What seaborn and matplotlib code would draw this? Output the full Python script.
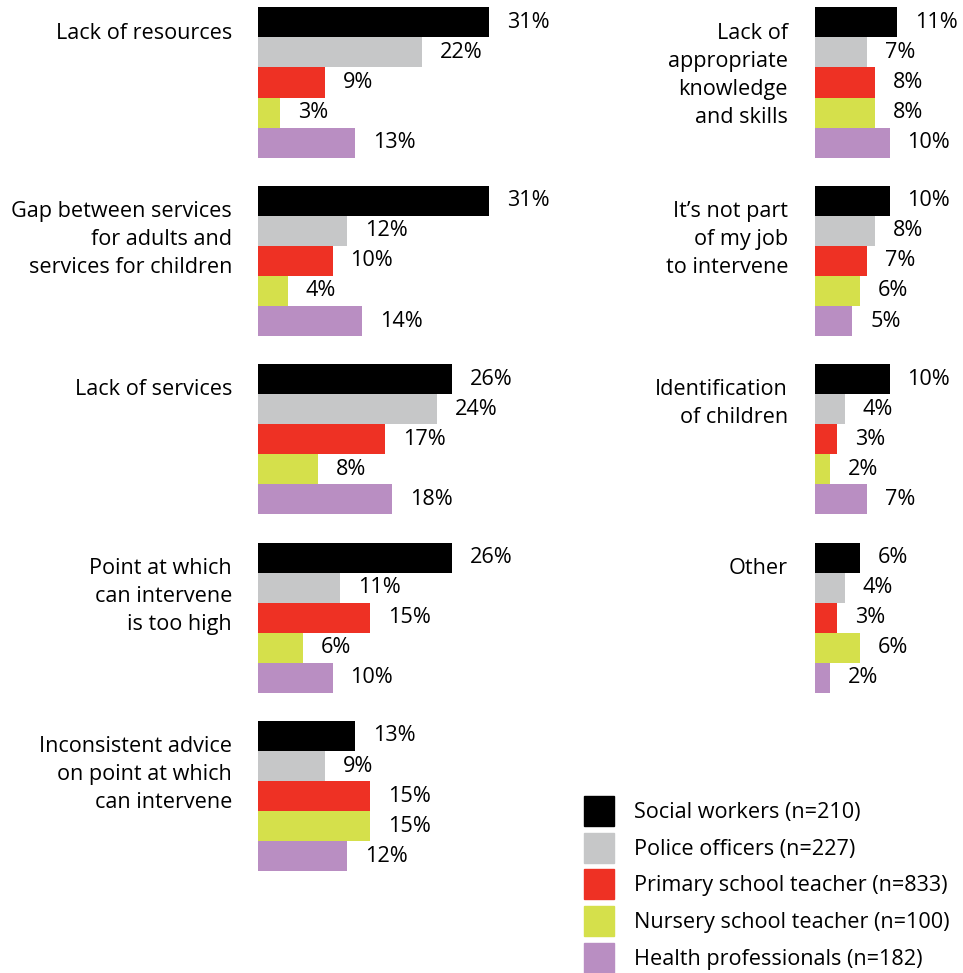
import matplotlib
matplotlib.use('Agg')
import matplotlib.pyplot as plt
import matplotlib.patches as mpatches
import seaborn as sns
import pandas as pd

groups = ["Social workers (n=210)", "Police officers (n=227)",
          "Primary school teacher (n=833)", "Nursery school teacher (n=100)",
          "Health professionals (n=182)"]
colors = ["#000000", "#c6c7c8", "#ee3124", "#d5e04b", "#b98ec2"]

left_cats = ["Lack of resources",
             "Gap between services\nfor adults and\nservices for children",
             "Lack of services",
             "Point at which\ncan intervene\nis too high",
             "Inconsistent advice\non point at which\ncan intervene"]
right_cats = ["Lack of\nappropriate\nknowledge\nand skills",
              "It\u2019s not part\nof my job\nto intervene",
              "Identification\nof children",
              "Other"]

# valeurs (%) par groupe, dans l'ordre des catégories
left_vals = {
    groups[0]: [31, 31, 26, 26, 13],
    groups[1]: [22, 12, 24, 11, 9],
    groups[2]: [9, 10, 17, 15, 15],
    groups[3]: [3, 4, 8, 6, 15],
    groups[4]: [13, 14, 18, 10, 12],
}
right_vals = {
    groups[0]: [11, 10, 10, 6],
    groups[1]: [7, 8, 4, 4],
    groups[2]: [8, 7, 3, 3],
    groups[3]: [8, 6, 2, 6],
    groups[4]: [10, 5, 7, 2],
}

W, H = 963, 973
FS = 15.6
sns.set_style('white')
plt.rcParams['font.family'] = ['Open Sans', 'DejaVu Sans']
plt.rcParams['text.color'] = 'black'

fig = plt.figure(figsize=(W / 100, H / 100), dpi=100)

PX_X = 7.45      # pixels par point de %
PX_CAT = 178.4   # pixels entre deux groupes
Y0 = 82.5        # centre du premier groupe (px depuis le haut)


def make_df(cats, vals):
    rows = []
    for g in groups:
        for c, v in zip(cats, vals[g]):
            rows.append({'cat': c, 'group': g, 'value': v})
    return pd.DataFrame(rows)


def draw(x0_px, x1_px, cats, vals, label_x_px):
    ax = fig.add_axes([x0_px / W, 0, (x1_px - x0_px) / W, 1])
    df = make_df(cats, vals)
    sns.barplot(data=df, x='value', y='cat', hue='group', order=cats,
                hue_order=groups, palette=colors, orient='h', width=0.843,
                linewidth=0, saturation=1, legend=False, ax=ax)
    ax.set_xlim(0, (x1_px - x0_px) / PX_X)
    ax.set_ylim((H - Y0) / PX_CAT, -Y0 / PX_CAT)
    for cont in ax.containers:
        texts = ax.bar_label(cont, fmt='{:.0f}%', padding=13, fontsize=FS, color='black')
        for t in texts:
            t.set_y(t.get_position()[1] + 1.5 / PX_CAT)
    for i, c in enumerate(cats):
        ax.text((label_x_px - x0_px) / PX_X, i - 0.42 + 15 / PX_CAT, c,
                ha='right', va='top', fontsize=FS, linespacing=1.44, color='black')
    ax.set_axis_off()
    return ax


draw(258, 560, left_cats, left_vals, 232)
draw(815, 963, right_cats, right_vals, 788)

handles = [mpatches.Patch(color=c, label=g) for c, g in zip(colors, groups)]
fig.legend(handles=handles, loc='upper left', bbox_to_anchor=(584 / W, 1 - 796 / H),
           frameon=False, fontsize=FS, handlelength=1.376, handleheight=1.74,
           handletextpad=0.92, labelspacing=0.32, borderpad=0, borderaxespad=0)

fig.savefig('out.png', dpi=100)
